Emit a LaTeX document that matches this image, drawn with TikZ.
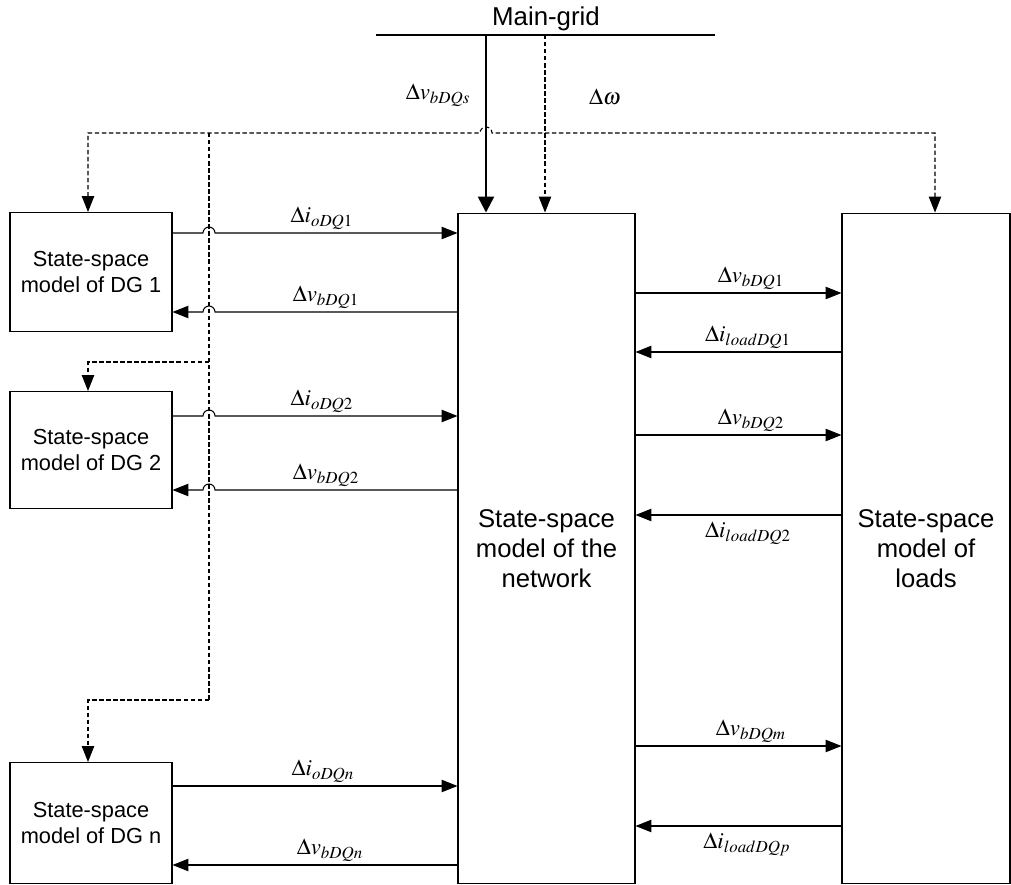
\documentclass[tikz,border=0pt]{standalone}
\usepackage{mathptmx}
\usepackage[no-math]{fontspec}
\setsansfont{Liberation Sans}
\usetikzlibrary{arrows.meta, positioning, calc}

\begin{document}
\begin{tikzpicture}[x=0.02cm, y=-0.02cm,
  every node/.style={inner sep=0pt},
  blk/.style={draw, line width=0.6pt, align=center,
    font=\sffamily\fontsize{12.4}{15.3}\selectfont},
  bigblk/.style={draw, line width=0.6pt, align=center,
    font=\sffamily\fontsize{14.6}{17}\selectfont},
  tip/.style={-{Triangle[length=9pt, width=7pt]}},
  sig/.style={line width=0.6pt, tip},
  ctl/.style={line width=0.6pt, dash pattern=on 2.5pt off 1.5pt},
  lbl/.style={font=\fontsize{13}{15}\selectfont}]

  \useasboundingbox (0,0) rectangle (1011,885);

  % ---------- Blocks ----------
  \node[blk, minimum width=3.24cm, minimum height=2.38cm] (dg1) at (91,272) {State-space\\model of DG 1};
  \node[blk, minimum width=3.24cm, minimum height=2.34cm] (dg2) at (91,450) {State-space\\model of DG 2};
  \node[blk, minimum width=3.24cm, minimum height=2.42cm] (dgn) at (91,823) {State-space\\model of DG n};
  \node[bigblk, minimum width=3.54cm, minimum height=13.42cm] (net) at (546.5,548.5) {State-space\\model of the\\network};
  \node[bigblk, minimum width=3.36cm, minimum height=13.42cm] (load) at (926,548.5) {State-space\\model of\\loads};

  % ---------- Main grid ----------
  \coordinate (busL) at (376,35);
  \coordinate (busR) at (715,35);
  \coordinate (tapV) at (486,35);
  \coordinate (tapW) at (545,35);
  \draw[line width=1.2pt] (busL) -- (busR);
  \node[font=\sffamily\fontsize{14.7}{17}\selectfont, anchor=base] (grid) at (546,26) {Main-grid};
  \draw[line width=1.4pt, -{Triangle[length=9pt, width=9pt]}] (tapV) -- (tapV |- net.north);
  \draw[ctl, tip] (tapW) -- (tapW |- net.north);
  \node[lbl] (lv) at (438,95) {$\Delta v_{bDQs}$};
  \node[lbl] (lw) at (605,97) {$\Delta\omega$};

  % ---------- Frequency distribution ----------
  \coordinate (d1) at (88,133);
  \coordinate (dR) at (935,133);
  \coordinate (v0) at (209,133);
  \coordinate (b2) at (209,362);
  \coordinate (bn) at (209,700);
  \draw[ctl, {Triangle[length=9pt, width=7pt]}-{Triangle[length=9pt, width=7pt]}]
    (d1 |- dg1.north) -- (d1) -- (480,133) arc (180:0:0.12cm) -- (dR) -- (dR |- load.north);
  \draw[ctl] (v0) -- (bn);
  \draw[ctl, tip] (b2) -- (b2 -| d1) -- (d1 |- dg2.north);
  \draw[ctl, tip] (bn) -- (bn -| d1) -- (d1 |- dgn.north);

  % ---------- DG <-> network ----------
  \foreach \n/\ya/\yb in {1/233/312, 2/416/490}{
    \draw[sig] (dg\n.east |- 0,\ya) -- (203,\ya) arc (180:0:0.12cm) -- (net.west |- 0,\ya);
    \draw[sig] (net.west |- 0,\yb) -- (215,\yb) arc (0:180:0.12cm) -- (dg\n.east |- 0,\yb);
    \node[lbl, above=2pt] (io\n) at (322,\ya) {$\Delta i_{oDQ\n}$};
    \node[lbl, above=2pt] (vb\n) at (326,\yb) {$\Delta v_{bDQ\n}$};
  }
  \draw[sig] (dgn.east |- 0,786) -- (net.west |- 0,786);
  \draw[sig] (net.west |- 0,865) -- (dgn.east |- 0,865);
  \node[lbl, above=2pt] (ion) at (323,786) {$\Delta i_{oDQn}$};
  \node[lbl, above=2pt] (vbn) at (330,865) {$\Delta v_{bDQn}$};

  % ---------- Network <-> loads ----------
  \draw[sig] (net.east |- 0,293) -- (load.west |- 0,293);
  \draw[sig] (load.west |- 0,352) -- (net.east |- 0,352);
  \draw[sig] (net.east |- 0,435) -- (load.west |- 0,435);
  \draw[sig] (load.west |- 0,515) -- (net.east |- 0,515);
  \draw[sig] (net.east |- 0,746) -- (load.west |- 0,746);
  \draw[sig] (load.west |- 0,826) -- (net.east |- 0,826);
  \node[lbl, above=2pt] (vr1) at (751,293) {$\Delta v_{bDQ1}$};
  \node[lbl, above=2pt] (il1) at (748,352) {$\Delta i_{loadDQ1}$};
  \node[lbl, above=2pt] (vr2) at (751,435) {$\Delta v_{bDQ2}$};
  \node[lbl, below=4pt] (il2) at (748,515) {$\Delta i_{loadDQ2}$};
  \node[lbl, above=2pt] (vrm) at (751,746) {$\Delta v_{bDQm}$};
  \node[lbl, below=4pt] (ilp) at (747,826) {$\Delta i_{loadDQp}$};
\end{tikzpicture}
\end{document}
